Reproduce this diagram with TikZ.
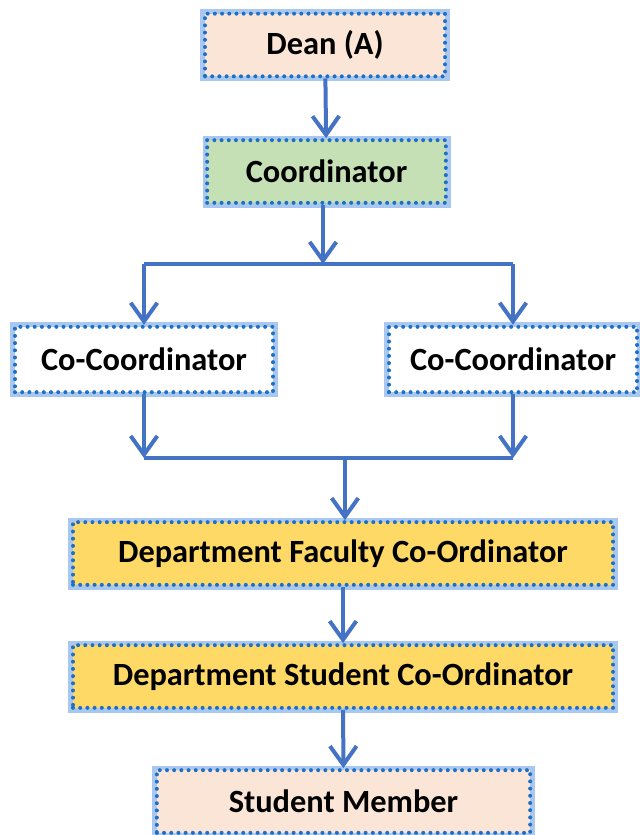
\documentclass[tikz,border=0pt]{standalone}
\usepackage{fontspec}
\setmainfont{Carlito}
\usetikzlibrary{arrows.meta}
\definecolor{linkblue}{HTML}{4472C4}
\definecolor{dotblue}{HTML}{1F6FC5}
\definecolor{glowblue}{HTML}{A9C8F0}
\definecolor{peach}{HTML}{FBE5D6}
\definecolor{leaf}{HTML}{C5E0B4}
\definecolor{gold}{HTML}{FFD966}
\tikzstyle{role}=[font=\bfseries\fontsize{24.3}{28}\selectfont, text=black,
  draw=dotblue, line width=3pt, line cap=round, dash pattern=on 0pt off 5.4pt,
  preaction={draw=glowblue, solid, line width=7pt},
  minimum height=47pt, inner sep=0pt]
\tikzstyle{link}=[draw=linkblue, line width=3pt]
\tikzstyle{flow}=[link, -{Straight Barb[length=14pt, width=20pt, line width=3pt]}]

\begin{document}
\begin{tikzpicture}[x=0.75pt, y=-0.75pt]
      \useasboundingbox (0, 0) rectangle (639, 835);
      \node[role, fill=peach, minimum width=180pt] (dean) at (325, 45) {Dean (A)};
      \node[role, fill=leaf, minimum width=179pt] (coord) at (326.5, 171.5) {Coordinator};
      \node[role, fill=white, minimum width=193.5pt, minimum height=49pt] (cocoL) at (144, 359.5) {Co-Coordinator};
      \node[role, fill=white, minimum width=186pt, minimum height=49pt] (cocoR) at (513, 359.5) {Co-Coordinator};
      \node[role, fill=gold, minimum width=405pt] (depfac) at (343, 553.5) {Department Faculty Co-Ordinator};
      \node[role, fill=gold, minimum width=405pt] (depstu) at (343, 676.5) {Department Student Co-Ordinator};
      \node[role, fill=peach, minimum width=280pt] (member) at (343.5, 801.5) {Student Member};
      \coordinate (split) at (323, 264);
      \coordinate (merge) at (345, 458);
      \draw[flow] (dean) -- (coord);
      \draw[flow] (coord.south -| split) -- (split);
      \draw[link] (split -| cocoL) -- (split -| cocoR);
      \draw[flow] (split -| cocoL) -- (cocoL);
      \draw[flow] (split -| cocoR) -- (cocoR);
      \draw[flow] (cocoL) -- (merge -| cocoL);
      \draw[flow] (cocoR) -- (merge -| cocoR);
      \draw[link] (merge -| cocoL) -- (merge -| cocoR);
      \draw[flow] (merge) -- (merge |- depfac.north);
      \draw[flow] (depfac) -- (depstu);
      \draw[flow] (depstu) -- (member);
    \end{tikzpicture}
\end{document}
